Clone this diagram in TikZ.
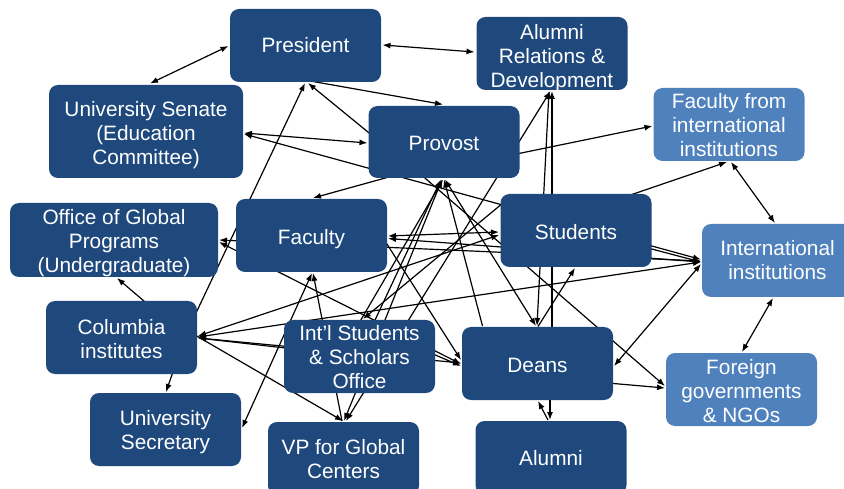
\documentclass[tikz,border=0pt]{standalone}
\usepackage{fontspec}
\setmainfont{Liberation Sans}
\usetikzlibrary{arrows.meta,calc}
\definecolor{dkblue}{HTML}{1F497D}
\definecolor{ltblue}{HTML}{4F81BD}
\pgfdeclarelayer{bg}
\pgfsetlayers{bg,main}
\begin{document}
\begin{tikzpicture}[x=1pt,y=-1pt,
  box/.style={rectangle, rounded corners=9pt, minimum width=151pt, minimum height=73pt,
    fill=dkblue, text=white, align=center, inner sep=2pt,
    font=\fontsize{20.8}{24}\selectfont},
  lbox/.style={box, fill=ltblue},
  tb/.style 2 args={text height=#1pt, text depth=#2pt},
  link/.style={line width=1.2pt, -{Latex[length=8pt,width=6pt]}},
  blink/.style={line width=1.2pt, {Latex[length=8pt,width=6pt]}-{Latex[length=8pt,width=6pt]}}]
\useasboundingbox (0,0) rectangle (844,489);

% nodes
\node[box, tb={13.9}{0}] (pres) at (305.5,45.5) {President};
\node[box, tb={67.2}{0}] (alum) at (552,53.5) {Alumni\\Relations \&\\Development};
\node[box, tb={66.6}{0}, minimum width=194pt, minimum height=93pt] (sen) at (146,131.5) {University Senate\\(Education\\Committee)};
\node[box, tb={17.6}{0}, minimum height=72pt] (prov) at (444,142) {Provost};
\node[lbox, tb={64}{0}] (facintl) at (729,124.5) {Faculty from\\international\\institutions};
\node[box, tb={64.2}{0}, minimum width=208pt, minimum height=74pt] (ogp) at (114,240) {Office of Global\\Programs\\(Undergraduate)};
\node[box, tb={21.5}{4.3}] (fac) at (311.5,235.5) {Faculty};
\node[box, tb={17.2}{0}] (stud) at (576,230.5) {Students};
\node[lbox, tb={38.6}{0}] (intl) at (777.5,260.5) {International\\institutions};
\node[box, tb={41.2}{0}] (col) at (121.5,337.5) {Columbia\\institutes};
\node[box, tb={64.6}{0}] (isso) at (359.5,356.5) {Int’l Students\\\& Scholars\\Office};
\node[box, tb={18}{0}] (deans) at (537.5,363.5) {Deans};
\node[lbox, tb={65.2}{0}] (foreign) at (741.5,389.5) {Foreign\\governments\\\& NGOs};
\node[box, tb={40.6}{0}] (usec) at (165.5,429.5) {University\\Secretary};
\node[box, tb={39.2}{0}] (vp) at (343.5,458.5) {VP for Global\\Centers};
\node[box, tb={16.6}{0}] (alumni) at (551,457.5) {Alumni};

% connectors
\begin{pgfonlayer}{bg}
\draw[blink] ($(sen)+(4,-48)$) -- ($(pres)+(-77,0.5)$);
\draw[blink] ($(pres)+(77,-0.5)$) -- ($(alum)+(-77.5,-1.5)$);
\draw[link] ($(pres)+(7.5,36)$) -- ($(prov)+(-1,-37.5)$);
\draw[link] ($(prov)+(-70,-5)$) -- ($(pres)+(2.5,37.5)$);
\draw[blink] ($(sen)+(98,1.5)$) -- ($(prov)+(-76.5,1)$);
\draw[blink] ($(sen)+(98,2.5)$) -- ($(intl)+(-76.5,-1)$);
\draw[link] ($(prov)+(70,12.5)$) -- ($(facintl)+(-76.5,1.5)$);
\draw[link] ($(deans)+(14.5,-30)$) -- ($(alum)+(0,37.5)$);
\draw[blink] ($(alum)+(-3,37.5)$) -- ($(deans)+(-0.5,-37.5)$);
\draw[link] ($(stud)+(50,-34)$) -- ($(facintl)+(-2,37.5)$);
\draw[blink] ($(facintl)+(2,37.5)$) -- ($(intl)+(-2.5,-37.5)$);
\draw[blink] ($(intl)+(-4.5,37.5)$) -- ($(foreign)+(0.5,-37.5)$);
\draw[blink] ($(deans)+(76.5,2.5)$) -- ($(intl)+(-76.5,3.5)$);
\draw[link] ($(deans)+(70,19.5)$) -- ($(foreign)+(-76.5,-1.5)$);
\draw[link] ($(prov)+(-26,30)$) -- ($(foreign)+(-76.5,-3.5)$);
\draw[link] ($(prov)+(-37,30)$) -- ($(fac)+(1.5,-37.5)$);
\draw[blink] ($(fac)+(76.5,0.5)$) -- ($(stud)+(-77,1.5)$);
\draw[blink] ($(fac)+(76.5,3)$) -- ($(intl)+(-76.5,1.5)$);
\draw[blink] ($(ogp)+(105,0)$) -- ($(intl)+(-76.5,0.5)$);
\draw[blink] ($(ogp)+(105,2)$) -- ($(deans)+(-76.5,0.5)$);
\draw[link] ($(col)+(30,-30)$) -- ($(ogp)+(3,38)$);
\draw[link] ($(col)+(70,-15)$) -- ($(pres)+(-0.5,37.5)$);
\draw[blink] ($(col)+(76.5,-0.5)$) -- ($(intl)+(-76.5,1.5)$);
\draw[blink] ($(col)+(76.5,-1.5)$) -- ($(stud)+(-77,4.5)$);
\draw[blink] ($(col)+(76.5,0.5)$) -- ($(deans)+(-76.5,-0.5)$);
\draw[link] ($(isso)+(-70,-8)$) -- ($(col)+(76.5,0.5)$);
\draw[link] ($(col)+(70,-4.5)$) -- ($(vp)+(-0.5,-37.5)$);
\draw[link] ($(col)+(53,30)$) -- ($(usec)+(0.5,-37.5)$);
\draw[blink] ($(fac)+(0.5,37.5)$) -- ($(usec)+(76.5,-1.5)$);
\draw[link] ($(vp)+(-1.5,-37.5)$) -- ($(fac)+(1.5,37.5)$);
\draw[blink] ($(vp)+(0.5,-37.5)$) -- ($(prov)+(-2,37.5)$);
\draw[blink] ($(vp)+(2.5,-37.5)$) -- ($(alum)+(-1.5,37.5)$);
\draw[link] ($(isso)+(-2.5,-30)$) -- ($(prov)+(-1,37.5)$);
\draw[link] ($(stud)+(-70,-30)$) -- ($(isso)+(3.5,-37.5)$);
\draw[blink] ($(prov)+(1,37.5)$) -- ($(deans)+(-1.5,-37.5)$);
\draw[link] ($(deans)+(0.5,-37)$) -- ($(stud)+(-1,37.5)$);
\draw[link] ($(fac)+(70,0)$) -- ($(deans)+(-76.5,-3.5)$);
\draw[link] ($(isso)+(70,-4)$) -- ($(deans)+(-76.5,2.5)$);
\draw[link] ($(alumni)+(-3,-37.5)$) -- ($(deans)+(0.5,37.5)$);
\draw[link] ($(deans)+(12.5,30)$) -- ($(alumni)+(-1,-37.5)$);
\draw[link] ($(stud)+(70,17)$) -- ($(intl)+(-76.5,1.5)$);
\draw[link] ($(isso)+(12.5,-30)$) -- ($(prov)+(-3,37.5)$);
\draw[link] ($(deans)+(-55,-37.5)$) -- ($(prov)+(0,37.5)$);
\end{pgfonlayer}
\end{tikzpicture}
\end{document}
